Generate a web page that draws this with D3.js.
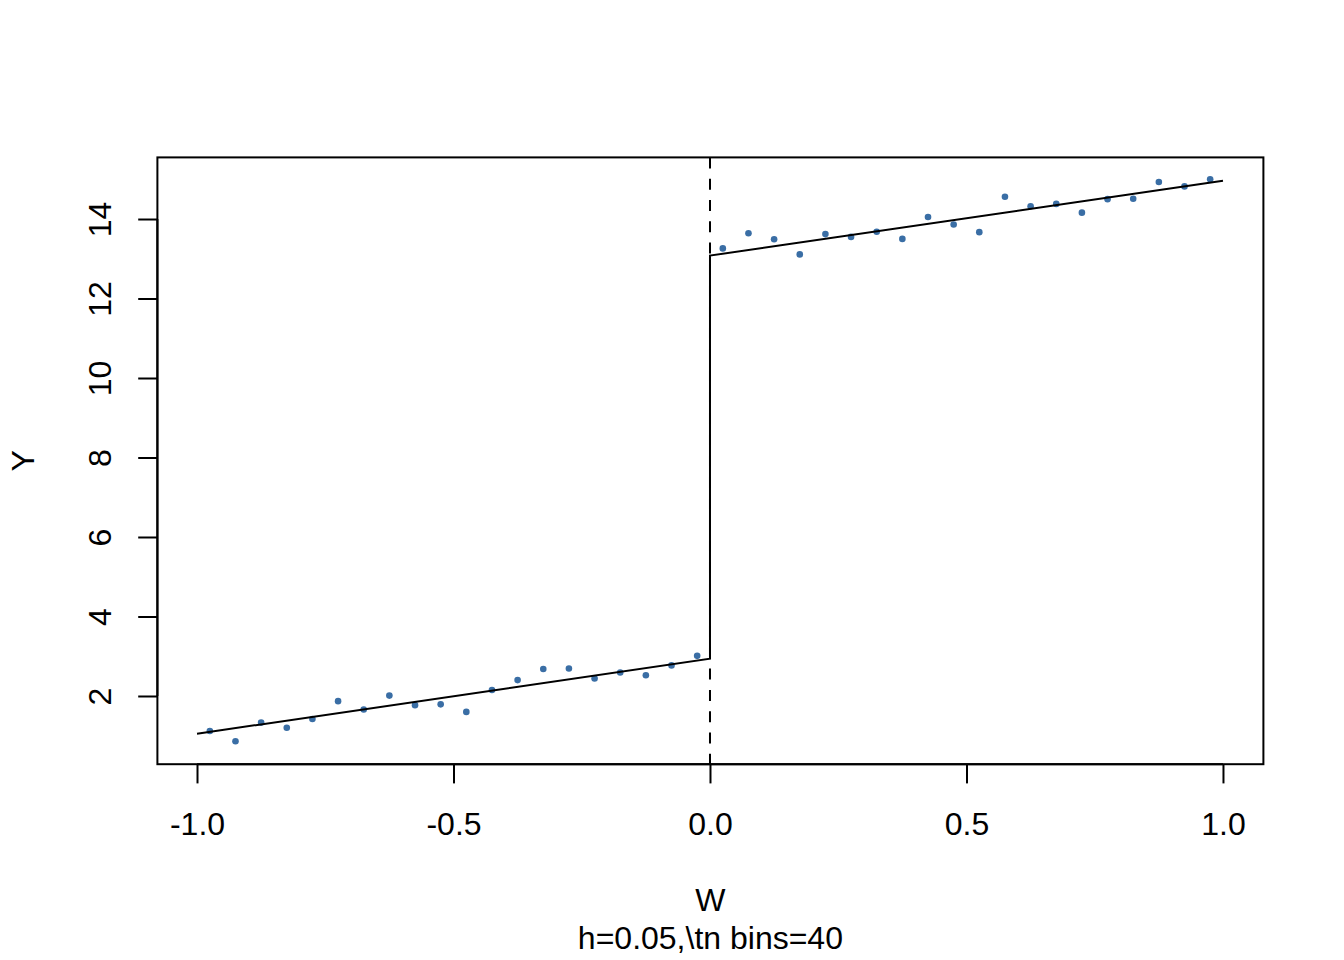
<!DOCTYPE html>
<html>
<head>
<meta charset="utf-8">
<script src="https://cdn.jsdelivr.net/npm/d3@7"></script>
<style>
  html, body { margin: 0; padding: 0; background: #fff; }
  svg { display: block; }
  text { font-family: "Liberation Sans", Arial, Helvetica, sans-serif; fill: #000; }
</style>
</head>
<body>
<svg id="chart" width="1344" height="960"></svg>
<script>
// ---- data ----
const binCenters = [-0.975,-0.925,-0.875,-0.825,-0.775,-0.725,-0.675,-0.625,-0.575,-0.525,
                    -0.475,-0.425,-0.375,-0.325,-0.275,-0.225,-0.175,-0.125,-0.075,-0.025,
                     0.025, 0.075, 0.125, 0.175, 0.225, 0.275, 0.325, 0.375, 0.425, 0.475,
                     0.525, 0.575, 0.625, 0.675, 0.725, 0.775, 0.825, 0.875, 0.925, 0.975];
const binMeans = [1.12, 0.86, 1.33, 1.20, 1.42, 1.87, 1.66, 2.01, 1.77, 1.79,
                  1.60, 2.15, 2.40, 2.68, 2.69, 2.44, 2.59, 2.52, 2.77, 3.01,
                  13.26, 13.64, 13.49, 13.11, 13.62, 13.55, 13.68, 13.50, 14.05, 13.86,
                  13.67, 14.56, 14.32, 14.38, 14.16, 14.50, 14.51, 14.93, 14.82, 15.00];
const fitLeftX = [-1, 0];
const fitLeftY = [1.05, 2.94];
const fitRightX = [0, 1];
const fitRightY = [13.08, 14.96];
const cutoff = 0;
const xTicks = [-1.0, -0.5, 0.0, 0.5, 1.0];
const xTickLabels = ["-1.0", "-0.5", "0.0", "0.5", "1.0"];
const yTicks = [2, 4, 6, 8, 10, 12, 14];
const xLabel = "W";
const yLabel = "Y";
const subLabel = "h=0.05,\\tn bins=40";

// ---- layout ----
const svg = d3.select("#chart");
const L = 157.4, R = 1263.4, T = 157.4, B = 764.2;
const fontSize = 32;
const lw = 2;

const x = d3.scaleLinear().domain([-1.0772, 1.0788]).range([L, R]);
const y = d3.scaleLinear().domain([0.284, 15.55]).range([B, T]);

// plot box
svg.append("rect")
  .attr("x", L).attr("y", T).attr("width", R - L).attr("height", B - T)
  .attr("fill", "none").attr("stroke", "#000").attr("stroke-width", lw);

// x axis
const xAxis = d3.axisBottom(x).tickValues(xTicks).tickSize(19.2)
  .tickFormat((d, i) => xTickLabels[i]);
const gx = svg.append("g").attr("transform", `translate(0,${B})`).call(xAxis);
gx.select(".domain").attr("d", `M${x(xTicks[0])},0H${x(xTicks[xTicks.length-1])}`)
  .attr("stroke-width", lw);
gx.selectAll(".tick line").attr("stroke-width", lw);
gx.selectAll(".tick text")
  .attr("y", 835 - B).attr("dy", null)
  .style("font-size", fontSize + "px")
  .style("font-family", '"Liberation Sans", Arial, sans-serif');

// y axis
const yAxis = d3.axisLeft(y).tickValues(yTicks).tickSize(19.2);
const gy = svg.append("g").attr("transform", `translate(${L},0)`).call(yAxis);
gy.select(".domain").attr("d", `M0,${y(yTicks[0])}V${y(yTicks[yTicks.length-1])}`)
  .attr("stroke-width", lw);
gy.selectAll(".tick line").attr("stroke-width", lw);
gy.selectAll(".tick text")
  .attr("x", null).attr("dy", null)
  .attr("text-anchor", "middle")
  .attr("transform", `translate(${111 - L},0) rotate(-90)`)
  .style("font-size", fontSize + "px")
  .style("font-family", '"Liberation Sans", Arial, sans-serif');

// axis titles
const cx = (L + R) / 2, cy = (T + B) / 2;
svg.append("text").attr("x", cx).attr("y", 911).attr("text-anchor", "middle")
  .style("font-size", fontSize + "px").text(xLabel);
svg.append("text").attr("x", cx).attr("y", 949).attr("text-anchor", "middle")
  .style("font-size", fontSize + "px").text(subLabel);
svg.append("text").attr("transform", `translate(34,${cy}) rotate(-90)`)
  .attr("text-anchor", "middle")
  .style("font-size", fontSize + "px").text(yLabel);

// clip
svg.append("clipPath").attr("id", "clip").append("rect")
  .attr("x", L).attr("y", T).attr("width", R - L).attr("height", B - T);
const plot = svg.append("g").attr("clip-path", "url(#clip)");

// points
plot.selectAll("circle").data(binCenters).enter().append("circle")
  .attr("cx", d => x(d))
  .attr("cy", (d, i) => y(binMeans[i]))
  .attr("r", 3.3)
  .attr("fill", "#3a6ea5");

// dashed cutoff line
plot.append("line")
  .attr("x1", x(cutoff)).attr("x2", x(cutoff))
  .attr("y1", T).attr("y2", B)
  .attr("stroke", "#000").attr("stroke-width", lw)
  .attr("stroke-dasharray", "11,10.3");

// fitted lines
const pts = [
  [fitLeftX[0], fitLeftY[0]], [fitLeftX[1], fitLeftY[1]],
  [fitRightX[0], fitRightY[0]], [fitRightX[1], fitRightY[1]]
];
const line = d3.line().x(d => x(d[0])).y(d => y(d[1]));
plot.append("path").attr("d", line(pts))
  .attr("fill", "none").attr("stroke", "#000").attr("stroke-width", lw);
</script>
</body>
</html>
